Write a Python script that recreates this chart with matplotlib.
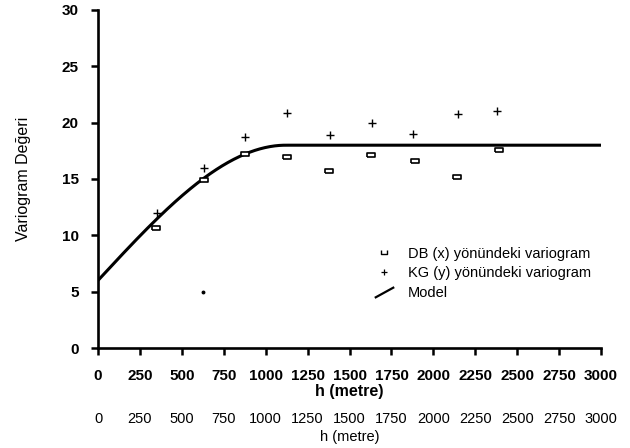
import numpy as np
import matplotlib
matplotlib.use("Agg")
import matplotlib.pyplot as plt
from matplotlib.lines import Line2D

plt.rcParams['font.family'] = ['Liberation Sans', 'DejaVu Sans']

# Experimental variogram, DB (x) direction
db_h = [347, 634, 879, 1126, 1376, 1630, 1890, 2140, 2391]
db_g = [10.65, 14.9, 17.2, 16.95, 15.75, 17.1, 16.6, 15.15, 17.6]
# Experimental variogram, KG (y) direction
kg_h = [349, 634, 879, 1126, 1383, 1634, 1881, 2148, 2381]
kg_g = [11.95, 15.95, 18.7, 20.9, 18.9, 20.0, 19.0, 20.8, 21.05]
# stray dot in the original
dot_h = [626]
dot_g = [5.0]
# Spherical model parameters
nugget = 6.0
sill = 18.0
rng = 1120.0
h_max = 3000

xticks = list(range(0, 3001, 250))
yticks = list(range(0, 31, 5))

fig = plt.figure(figsize=(6.3, 4.48), dpi=100)
ax = fig.add_axes([0.1556, 0.2232, 0.954 - 0.1556, 0.9777 - 0.2232])

h = np.linspace(0, h_max, 601)
r = np.clip(h / rng, 0, 1)
model = nugget + (sill - nugget) * (1.5 * r - 0.5 * r ** 3)
ax.plot(h, model, color='black', lw=2.2, solid_capstyle='butt', zorder=2)

rect = [(-1.4, -0.9), (1.4, -0.9), (1.4, 0.9), (-1.4, 0.9), (-1.4, -0.9)]
ax.plot(db_h, db_g, linestyle='none', marker=rect, markersize=5.5,
        markerfacecolor='white', markeredgecolor='black', markeredgewidth=1.2, zorder=3)
ax.plot(kg_h, kg_g, linestyle='none', marker='+', markersize=5.5,
        markeredgecolor='black', markeredgewidth=1.0, zorder=3)
ax.plot(dot_h, dot_g, linestyle='none', marker='o', markersize=1.8,
        color='black', zorder=3)

ax.set_xlim(0, h_max)
ax.set_ylim(0, 30)
ax.set_xticks(xticks)
ax.set_yticks(yticks)
for s in ['top', 'right']:
    ax.spines[s].set_visible(False)
for s in ['left', 'bottom']:
    ax.spines[s].set_linewidth(1.9)
ax.tick_params(axis='both', direction='out', length=5, width=1.8,
               labelsize=11)
ax.tick_params(axis='x', pad=10)
ax.tick_params(axis='y', pad=9)
for lab in ax.get_xticklabels() + ax.get_yticklabels():
    lab.set_fontweight('bold')
ax.set_xlabel('h (metre)', fontsize=11.5, fontweight='bold', labelpad=1)
ax.set_ylabel('Variogram Değeri', fontsize=11.5, labelpad=22)

sec = ax.secondary_xaxis(0)
sec.set_xticks(xticks)
sec.spines['bottom'].set_visible(False)
sec.tick_params(axis='x', length=0, pad=46, labelsize=10.5)
sec.set_xlabel('h (metre)', fontsize=10.5, labelpad=3)

cup = [(-1.4, 0.9), (-1.4, -0.9), (1.4, -0.9), (1.4, 0.9)]
diag = [(-1.0, -0.55), (1.0, 0.55)]
handles = [
    Line2D([], [], linestyle='none', marker=cup, markersize=4.5,
           markerfacecolor='none', markeredgecolor='black', markeredgewidth=1.0),
    Line2D([], [], linestyle='none', marker='+', markersize=4.5,
           markeredgecolor='black', markeredgewidth=0.9),
    Line2D([], [], linestyle='none', marker=diag, markersize=14,
           markerfacecolor='none', markeredgecolor='black', markeredgewidth=1.6),
]
labels = ['DB (x) yönündeki variogram', 'KG (y) yönündeki variogram', 'Model']
ax.legend(handles, labels, loc='upper left', bbox_to_anchor=(0.552, 0.30),
          frameon=False, fontsize=10.5, handlelength=1.2, handletextpad=1.0,
          labelspacing=0.4, borderaxespad=0, borderpad=0)

fig.savefig('out.png', dpi=100)
